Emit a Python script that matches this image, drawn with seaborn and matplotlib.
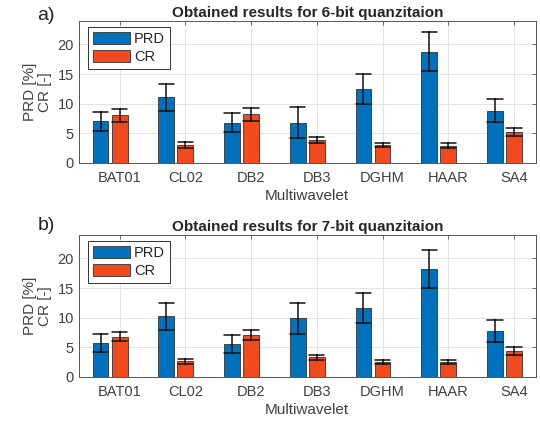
import numpy as np
import pandas as pd
import matplotlib
matplotlib.use('Agg')
import matplotlib.pyplot as plt
import seaborn as sns

wavelets = ['BAT01', 'CL02', 'DB2', 'DB3', 'DGHM', 'HAAR', 'SA4']

# 6-bit quantization
prd_6 = [7.0, 11.1, 6.8, 6.8, 12.5, 18.8, 8.8]
prd_6_err = [1.55, 2.3, 1.55, 2.65, 2.55, 3.35, 1.9]
cr_6 = [8.0, 3.0, 8.2, 3.8, 3.0, 2.9, 5.2]
cr_6_err = [1.05, 0.45, 1.05, 0.5, 0.35, 0.4, 0.7]

# 7-bit quantization
prd_7 = [5.7, 10.2, 5.5, 9.9, 11.7, 18.2, 7.8]
prd_7_err = [1.55, 2.25, 1.5, 2.6, 2.55, 3.2, 1.85]
cr_7 = [6.8, 2.6, 7.0, 3.3, 2.5, 2.5, 4.4]
cr_7_err = [0.8, 0.4, 0.85, 0.45, 0.35, 0.35, 0.65]

blue = '#0072BD'
red = '#F04A1E'


def long_table(prd, prd_err, cr, cr_err):
    # each bar gets value-err and value+err, mean = value, min/max = error bar
    rows = []
    for name, v, e in zip(wavelets, prd, prd_err):
        rows.append((name, 'PRD', v - e))
        rows.append((name, 'PRD', v + e))
    for name, v, e in zip(wavelets, cr, cr_err):
        rows.append((name, 'CR', v - e))
        rows.append((name, 'CR', v + e))
    return pd.DataFrame(rows, columns=['wavelet', 'metric', 'value'])


sns.set_style('white')
plt.rcParams['font.family'] = ['Liberation Sans', 'DejaVu Sans']

fig = plt.figure(figsize=(5.4, 4.23), dpi=100)
ax1 = fig.add_axes([0.146, 0.615, 0.846, 0.336])
ax2 = fig.add_axes([0.146, 0.109, 0.846, 0.336])

panels = [
    (ax1, long_table(prd_6, prd_6_err, cr_6, cr_6_err), 'Obtained results for 6-bit quanzitaion', 'a)', 16),
    (ax2, long_table(prd_7, prd_7_err, cr_7, cr_7_err), 'Obtained results for 7-bit quanzitaion', 'b)', 225),
]

for ax, df, title, letter, ly in panels:
    sns.barplot(data=df, x='wavelet', y='value', hue='metric',
                order=wavelets, hue_order=['PRD', 'CR', 'pad'],
                palette={'PRD': blue, 'CR': red, 'pad': 'white'},
                estimator='mean', errorbar=lambda x: (x.min(), x.max()),
                width=0.87, gap=0.17, capsize=0.7, saturation=1,
                edgecolor='#333333', linewidth=0.6,
                err_kws={'color': '#111111', 'linewidth': 1.1},
                legend=False, ax=ax)
    ax.set_axisbelow(True)
    ax.grid(True, axis='both', color='#e3e3e3', linewidth=0.7)
    ax.set_xlim(-0.62, 6.33)
    ax.set_ylim(0, 24)
    ax.set_yticks([0, 5, 10, 15, 20])
    ax.set_title(title, fontsize=11, fontweight='bold', pad=3)
    ax.set_xlabel('Multiwavelet', fontsize=11, color='#404040', labelpad=3)
    ax.set_ylabel('PRD [%]\nCR [-]', fontsize=11, color='#404040',
                  linespacing=1.05, labelpad=4)
    ax.tick_params(direction='in', length=3, top=True, right=True,
                   labelsize=10.5, labelcolor='#404040', color='#555555', width=0.6)
    ax.tick_params(axis='x', pad=6)
    for s in ax.spines.values():
        s.set_color('#555555')
        s.set_linewidth(0.7)
    handles = [ax.containers[0], ax.containers[1]]
    leg = ax.legend(handles, ['PRD', 'CR'], loc='upper left',
                    bbox_to_anchor=(0.02, 0.955), fontsize=10.5,
                    fancybox=False, edgecolor='#333333', framealpha=1,
                    handlelength=2.5, handleheight=0.9, borderpad=0.35,
                    labelspacing=0.25, handletextpad=0.3, borderaxespad=0)
    leg.get_frame().set_linewidth(0.7)
    fig.text(0.085, 1 - ly / 423, letter, fontsize=14,
             ha='center', va='center', color='#222222')

fig.savefig('out.png', dpi=100)
